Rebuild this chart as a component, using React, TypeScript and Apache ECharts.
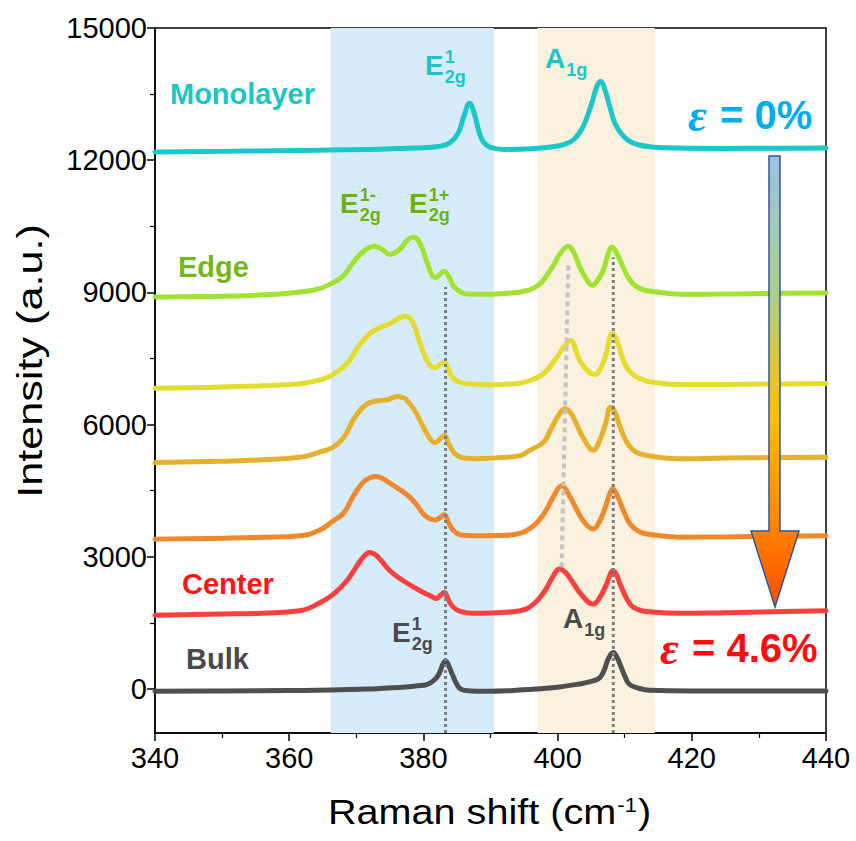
import React, { useEffect, useRef } from 'react';
import * as echarts from 'echarts';

// ---------- data ----------
const xTicks = [340, 360, 380, 400, 420, 440];
const yTicks = [0, 3000, 6000, 9000, 12000, 15000];
const yMinorTicks = [1500, 4500, 7500, 10500, 13500];

const blueBand = [366.2, 390.5];
const beigeBand = [397.0, 414.5];

const monolayer = [
  [340, 12187], [350, 12200], [358, 12215], [366, 12230], [372, 12245], [376, 12265], [380, 12285], [382.5, 12320],
  [384, 12400], [385.2, 12620], [386, 12980], [386.9, 13290], [387.6, 13050], [388.3, 12640], [389, 12400],
  [390, 12290], [392, 12245], [396, 12260], [399, 12300], [401, 12360], [402.5, 12480], [403.8, 12760],
  [405, 13250], [405.8, 13650], [406.4, 13790], [407, 13620], [407.8, 13200], [408.5, 12850], [409.5, 12600],
  [410.5, 12450], [412, 12350], [414.5, 12295], [418, 12275], [425, 12268], [432, 12270], [440, 12274],
];
const edge = [
  [340, 8894], [346, 8905], [352.2, 8920], [358, 8960], [361.6, 9008], [364.1, 9070], [366.3, 9199], [368.1, 9380],
  [369.8, 9728], [371.6, 9994], [372.8, 10047], [374, 9960], [375, 9860], [376, 9920], [376.8, 10030],
  [377.6, 10180], [378.5, 10258], [379.5, 10108], [380.5, 9700], [381.3, 9380], [381.8, 9335], [382.5, 9410],
  [383.1, 9478], [383.8, 9350], [384.5, 9140], [385.5, 9010], [386.5, 8965], [389.4, 8956], [391.4, 8971],
  [394.4, 9008], [397.1, 9160], [398.9, 9501], [400.4, 9880], [401.6, 10047], [402.5, 9880], [403.3, 9576],
  [404.3, 9300], [405.2, 9160], [406, 9280], [406.8, 9501], [407.5, 9850], [408.1, 10031], [408.7, 9920],
  [409.3, 9728], [410.8, 9274], [412.3, 9085], [414.8, 9008], [418.2, 8960], [425, 8962], [432, 8975], [440, 8985],
];
const strain1 = [
  [340, 6823], [350, 6850], [356, 6880], [361.6, 6926], [364.5, 7010], [366.3, 7114], [368.6, 7380], [370.6, 7835],
  [372, 8062], [373.5, 8199], [375, 8290], [376.5, 8426], [377.4, 8456], [378.5, 8290], [379.5, 7835],
  [380.7, 7417], [381.7, 7290], [382.4, 7350], [383.1, 7417], [383.8, 7220], [384.5, 7040], [385.5, 6960],
  [386.5, 6926], [390.4, 6905], [394.4, 6939], [395.9, 7001], [397.9, 7153], [399.9, 7531], [401.1, 7796],
  [402, 7910], [402.7, 7700], [403.3, 7455], [404.5, 7220], [405.6, 7137], [406.4, 7280], [407.1, 7531],
  [407.6, 7850], [408.1, 8062], [408.6, 8000], [409, 7835], [410.3, 7303], [412.3, 7040], [415.3, 6939],
  [418.2, 6910], [425, 6912], [432, 6920], [440, 6932],
];
const strain2 = [
  [340, 5137], [350, 5170], [356, 5200], [361.6, 5257], [364.6, 5380], [366.5, 5480], [368.1, 5700], [369.8, 6167],
  [371.6, 6471], [373.5, 6546], [374.5, 6562], [375.3, 6600], [376, 6637], [377, 6610], [377.5, 6562],
  [378.7, 6319], [380, 5939], [381, 5680], [381.7, 5590], [382.4, 5660], [383.1, 5751], [383.8, 5560],
  [384.5, 5372], [385.5, 5260], [387.4, 5225], [391.4, 5250], [394.4, 5296], [395.9, 5420], [397.9, 5600],
  [398.9, 5864], [400.1, 6200], [401.1, 6357], [402, 6250], [402.8, 6017], [404, 5650], [405.3, 5420],
  [406.3, 5650], [407.2, 6050], [407.9, 6394], [408.5, 6300], [409.3, 5950], [410.3, 5600], [411.3, 5420],
  [412.3, 5335], [415, 5260], [418.2, 5225], [425, 5240], [432, 5250], [440, 5260],
];
const strain3 = [
  [340, 3400], [350, 3420], [356, 3440], [361.6, 3478], [364.5, 3600], [366.6, 3819], [368.1, 3990], [369.6, 4387],
  [371, 4689], [372, 4790], [373, 4819], [374, 4770], [374.8, 4689], [376, 4576], [377, 4470], [378, 4348],
  [379, 4180], [380, 3970], [381, 3860], [381.7, 3834], [382.4, 3880], [383.1, 3955], [383.8, 3760],
  [384.5, 3591], [385.5, 3500], [387.4, 3478], [391.4, 3480], [394.4, 3530], [396.4, 3705], [397.5, 3880],
  [398.4, 4084], [399.5, 4400], [400.6, 4614], [401.7, 4400], [402.8, 4084], [404, 3780], [405.3, 3630],
  [406.3, 3820], [407.1, 4121], [407.7, 4400], [408.2, 4539], [408.8, 4420], [409.3, 4235], [410, 3980],
  [410.8, 3743], [412, 3580], [413.3, 3516], [418.2, 3445], [425, 3450], [432, 3465], [440, 3478],
];
const center = [
  [340, 1675], [350, 1700], [356, 1720], [361.6, 1773], [364.5, 1950], [366.6, 2152], [368.6, 2455], [370.6, 2909],
  [371.4, 3050], [372, 3098], [372.7, 3060], [373.5, 2948], [375, 2682], [377, 2455], [379.5, 2228],
  [381.2, 2100], [381.9, 2052], [382.5, 2120], [383.1, 2189], [383.8, 2000], [384.5, 1848], [385.5, 1760],
  [387.4, 1715], [391.4, 1735], [394.4, 1773], [396.4, 1925], [398.1, 2228], [399.3, 2550], [400.3, 2720],
  [401.2, 2640], [402.1, 2455], [403.5, 2150], [405.3, 1925], [406.3, 2080], [407.3, 2380], [408.3, 2682],
  [408.9, 2550], [409.3, 2380], [410.8, 1925], [412, 1800], [413.3, 1757], [418.2, 1715], [425, 1730],
  [432, 1750], [440, 1773],
];
const bulk = [
  [340, -50], [350, -45], [360, -35], [366.3, -25], [372, 0], [376.3, 30], [379, 70], [380.6, 106], [381.6, 200],
  [382.3, 333], [382.9, 560], [383.3, 636], [383.8, 520], [384.3, 333], [385, 100], [385.6, -7], [387, -45],
  [389.6, -55], [393, -40], [396.3, -7], [400, 40], [403, 106], [405, 170], [406.3, 257], [407, 450],
  [407.6, 700], [408.3, 825], [408.9, 700], [409.3, 561], [410, 300], [410.7, 106], [412, 20], [413.7, -30],
  [420, -45], [430, -45], [440, -45],
];

const e2gGuide = [[383.3, -1000], [383.3, 9120]];
const a1gGuide = [[408.3, -1000], [408.3, 9800]];
const a1gShiftGuide = [[400.6, 2760], [401.6, 9690]];

// ---------- styling ----------
const FONT = '"Liberation Sans", Arial, Helvetica, sans-serif';
const SERIF = '"Liberation Serif", "DejaVu Serif", serif';

const curves = [
  { name: 'Bulk', data: bulk, color: '#4f4f4f' },
  { name: 'Center', data: center, color: '#f8403f' },
  { name: 'Strain 3', data: strain3, color: '#f0892d' },
  { name: 'Strain 2', data: strain2, color: '#e5b12f' },
  { name: 'Strain 1', data: strain1, color: '#e4dd30' },
  { name: 'Edge', data: edge, color: '#a0e332' },
  { name: 'Monolayer', data: monolayer, color: '#1cc7c9' },
];

let measureCtx: CanvasRenderingContext2D | null = null;
function textWidth(text: string, size: number, weight = 'bold', family = FONT, style = 'normal') {
  if (!measureCtx) measureCtx = document.createElement('canvas').getContext('2d');
  measureCtx!.font = `${style} ${weight} ${size}px ${family}`;
  return measureCtx!.measureText(text).width;
}

function txt(x: number, y: number, text: string, size: number, color: string, opts: any = {}) {
  return {
    type: 'text',
    x,
    y,
    z: 100,
    silent: true,
    rotation: opts.rotation ?? 0,
    scaleX: opts.scaleX ?? 1,
    style: {
      text,
      fontSize: size,
      fontWeight: opts.weight ?? 'bold',
      fontFamily: opts.family ?? FONT,
      fontStyle: opts.fontStyle ?? 'normal',
      fill: color,
      align: opts.align ?? 'left',
      verticalAlign: 'middle',
    },
  };
}

function mode(x: number, yc: number, base: string, sup: string | null, sub: string | null, color: string) {
  const w = textWidth(base, 28);
  const out: any[] = [txt(x, yc, base, 28, color)];
  if (sup) out.push(txt(x + w + 1, yc - 8, sup, 18, color));
  if (sub) out.push(txt(x + w + 1, yc + 11.5, sub, 18, color));
  return out;
}

function strainLabel(x: number, yc: number, rest: string, color: string) {
  const w = textWidth('ε', 46, 'bold', SERIF, 'italic');
  return [
    txt(x, yc, 'ε', 46, color, { family: SERIF, fontStyle: 'italic' }),
    txt(x + w + 2, yc, rest, 40, color),
  ];
}

export default function App() {
  const ref = useRef<HTMLDivElement>(null);

  useEffect(() => {
    if (!ref.current) return;
    const chart = echarts.init(ref.current, null, { renderer: 'svg' });

    const wTitle = textWidth('Raman shift (cm', 36, 'normal');
    const wSup = textWidth('-1', 20, 'normal');

    const graphics: any[] = [
      // curve labels
      txt(170, 94, 'Monolayer', 29, '#1bc6c8'),
      txt(178, 267, 'Edge', 29, '#74b817'),
      txt(182, 584, 'Center', 29, '#ff1414'),
      txt(186, 659, 'Bulk', 29, '#4a4a4a'),
      // mode labels
      ...mode(425, 65, 'E', '1', '2g', '#1bc6c8'),
      ...mode(545, 58, 'A', null, '1g', '#1bc6c8'),
      ...mode(340, 203, 'E', '1-', '2g', '#6cb20e'),
      ...mode(409, 203, 'E', '1+', '2g', '#6cb20e'),
      ...mode(392, 632, 'E', '1', '2g', '#4a4a4a'),
      ...mode(563, 618, 'A', null, '1g', '#4a4a4a'),
      // strain labels
      ...strainLabel(688, 115, ' = 0%', '#00aeef'),
      ...strainLabel(660, 648, ' = 4.6%', '#ff0d0d'),
      // arrow
      {
        type: 'polygon',
        z: 90,
        silent: true,
        shape: {
          points: [[769, 156], [780, 156], [780, 531], [799, 531], [775, 607], [751, 531], [769, 531]],
        },
        style: {
          fill: new echarts.graphic.LinearGradient(0, 0, 0, 1, [
            { offset: 0, color: '#9cc3e5' },
            { offset: 0.3, color: '#a8cf8f' },
            { offset: 0.58, color: '#ffc000' },
            { offset: 0.8, color: '#ff8a00' },
            { offset: 1, color: '#ff4d00' },
          ]),
          stroke: '#2f5597',
          lineWidth: 1.5,
        },
      },
      // axis titles
      {
        type: 'group',
        x: 328,
        y: 812,
        scaleX: 1.1,
        children: [
          txt(0, 0, 'Raman shift (cm', 36, '#000', { weight: 'normal' }),
          txt(wTitle + 1, -7, '-1', 20, '#000', { weight: 'normal' }),
          txt(wTitle + wSup + 2, 0, ')', 36, '#000', { weight: 'normal' }),
        ],
      },
      txt(29, 361, 'Intensity (a.u.)', 36, '#000', {
        weight: 'normal',
        align: 'center',
        rotation: Math.PI / 2,
        scaleX: 1.2,
      }),
    ];

    const series: any[] = [
      {
        name: 'bands',
        type: 'line',
        data: [],
        z: 1,
        silent: true,
        markArea: {
          silent: true,
          data: [
            [{ xAxis: blueBand[0], itemStyle: { color: '#d7ecfb' } }, { xAxis: blueBand[1] }],
            [{ xAxis: beigeBand[0], itemStyle: { color: '#faf1df' } }, { xAxis: beigeBand[1] }],
          ],
        },
      },
      ...curves.map((c) => ({
        name: c.name,
        type: 'line',
        data: c.data,
        z: 3,
        showSymbol: false,
        smooth: 0.45,
        lineStyle: { color: c.color, width: 5, cap: 'round', join: 'round' },
        silent: true,
      })),
      {
        name: 'E2g guide',
        type: 'line',
        data: e2gGuide,
        z: 5,
        showSymbol: false,
        silent: true,
        lineStyle: { color: '#7d7d7d', width: 3, type: [3, 3] },
      },
      {
        name: 'A1g guide',
        type: 'line',
        data: a1gGuide,
        z: 5,
        showSymbol: false,
        silent: true,
        lineStyle: { color: '#7d7d7d', width: 3, type: [3, 3] },
      },
      {
        name: 'A1g shift guide',
        type: 'line',
        data: a1gShiftGuide,
        z: 5,
        showSymbol: false,
        silent: true,
        lineStyle: { color: '#c4c4c4', width: 4, type: [5, 4] },
      },
    ];

    chart.setOption({
      animation: false,
      backgroundColor: '#ffffff',
      grid: {
        left: 155,
        right: 30,
        top: 28,
        bottom: 108,
        show: true,
        borderColor: '#000',
        borderWidth: 1.5,
        backgroundColor: 'transparent',
      },
      xAxis: {
        type: 'value',
        min: 340,
        max: 440,
        interval: 20,
        axisLine: { show: true, onZero: false, lineStyle: { color: '#000', width: 1.5 } },
        axisTick: { show: true, length: 8, lineStyle: { color: '#000', width: 1.5 } },
        minorTick: { show: true, splitNumber: 2, length: 5, lineStyle: { color: '#000', width: 1.2 } },
        splitLine: { show: false },
        minorSplitLine: { show: false },
        axisLabel: {
          color: '#000',
          fontSize: 29,
          fontFamily: FONT,
          margin: 10,
          customValues: xTicks,
        },
      },
      yAxis: [
        {
          type: 'value',
          min: -1000,
          max: 15000,
          position: 'left',
          axisLine: { show: true, onZero: false, lineStyle: { color: '#000', width: 1.5 } },
          axisTick: { show: true, length: 8, lineStyle: { color: '#000', width: 1.5 }, customValues: yTicks },
          splitLine: { show: false },
          axisLabel: {
            color: '#000',
            fontSize: 29,
            fontFamily: FONT,
            margin: 8,
            customValues: yTicks,
            formatter: (v: number) => String(v),
          },
        },
        {
          type: 'value',
          min: -1000,
          max: 15000,
          position: 'left',
          offset: 0,
          axisLine: { show: false },
          axisTick: { show: true, length: 5, lineStyle: { color: '#000', width: 1.2 }, customValues: yMinorTicks },
          splitLine: { show: false },
          axisLabel: { show: false },
        },
      ],
      series,
      graphic: graphics,
    });

    return () => chart.dispose();
  }, []);

  return (
    <div
      ref={ref}
      style={{ position: 'absolute', left: 0, top: 0, width: 856, height: 841, background: '#fff' }}
    />
  );
}
